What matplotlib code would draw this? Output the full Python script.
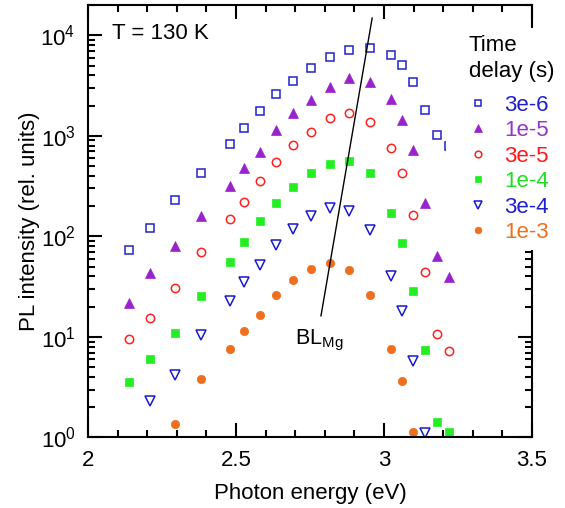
import numpy as np
import matplotlib
matplotlib.use("Agg")
import matplotlib.pyplot as plt
from matplotlib.patches import Rectangle
from matplotlib.ticker import MultipleLocator, NullFormatter, LogLocator

plt.rcParams['font.family'] = ['Liberation Sans', 'DejaVu Sans']
plt.rcParams['mathtext.fontset'] = 'custom'
plt.rcParams['mathtext.rm'] = 'Liberation Sans'
plt.rcParams['mathtext.it'] = 'Liberation Sans:italic'
plt.rcParams['mathtext.default'] = 'regular'

# photon energy columns (eV)
energy = [2.137, 2.210, 2.295, 2.382, 2.479, 2.528, 2.582, 2.636, 2.694, 2.753,
          2.818, 2.883, 2.954, 3.025, 3.060, 3.099, 3.137, 3.179, 3.220]

# PL intensity for each time delay
pl_3e6 = [73, 121, 229, 431, 832, 1202, 1762, 2606, 3548, 4720,
          6070, 7125, 7460, 6355, 5085, 3445, 1815, 1023, 800]
pl_1e5 = [21.6, 43.3, 80.4, 160, 320, 477, 698, 1155, 1683, 2280,
          3053, 3715, 3390, 2318, 1443, 721, 217, 64.4, 39.8]
pl_3e5 = [9.55, 15.5, 30.9, 70.6, 148, 219, 352, 551, 808, 1096,
          1500, 1683, 1378, 765, 425, 163, 44, 10.7, 7.3]
pl_1e4 = [3.54, 6.08, 10.96, 25.8, 56.1, 88.8, 141.6, 214, 313, 425,
          530, 568, 422, 172.6, 86.8, 28.7, 7.37, 1.42, 1.13]
energy_3e4 = energy[1:17]
pl_3e4 = [2.32, 4.16, 10.4, 22.7, 35, 52, 82.3, 118.8, 161, 193.4,
          180.6, 115.3, 40.5, 18.1, 5.77, 1.10]
energy_1e3 = energy[2:16]
pl_1e3 = [1.36, 3.79, 7.55, 11.4, 16.5, 26, 36.7, 47.8, 54.1, 46.1,
          26.2, 7.55, 3.63, 1.13]

# BL_Mg peak guide line
bl_x = [2.787, 2.960]
bl_y = [16.2, 14830]

labels = ['3e-6', '1e-5', '3e-5', '1e-4', '3e-4', '1e-3']
colors = ['#2222CC', '#9922CC', '#FF2020', '#22EE22', '#1818D0', '#EE6F1F']
text_colors = ['#1F1FCF', '#9933CC', '#FF1A1A', '#22DD22', '#1F1FCF', '#EE6F1F']

fig = plt.figure(figsize=(5.65, 5.08), dpi=100)
ax = fig.add_axes([0.1558, 0.1388, 0.7858, 0.8514])

ms = 6
h1, = ax.plot(energy, pl_3e6, 's', ms=ms, mfc='none', mec=colors[0], mew=1.1, label=labels[0])
h2, = ax.plot(energy, pl_1e5, '^', ms=ms + 1, mfc=colors[1], mec=colors[1], mew=0.5, label=labels[1])
h3, = ax.plot(energy, pl_3e5, 'o', ms=ms, mfc='none', mec=colors[2], mew=1.1, label=labels[2])
h4, = ax.plot(energy, pl_1e4, 's', ms=ms, mfc=colors[3], mec=colors[3], mew=0.5, label=labels[3])
h5, = ax.plot(energy_3e4, pl_3e4, 'v', ms=ms + 1, mfc='none', mec=colors[4], mew=1.1, label=labels[4])
h6, = ax.plot(energy_1e3, pl_1e3, 'o', ms=ms, mfc=colors[5], mec=colors[5], mew=0.5, label=labels[5])

ax.plot(bl_x, bl_y, '-', color='black', lw=1)
ax.text(2.699, 9.3, r'BL$_{\mathrm{Mg}}$', fontsize=15.5, va='center', ha='left')
ax.text(0.053, 0.935, 'T = 130 K', transform=ax.transAxes, fontsize=16, va='center', ha='left')

ax.set_yscale('log')
ax.set_xlim(2, 3.5)
ax.set_ylim(1, 2.0e4)
ax.xaxis.set_major_locator(MultipleLocator(0.5))
ax.xaxis.set_minor_locator(MultipleLocator(0.1))
ax.xaxis.set_major_formatter(plt.FuncFormatter(lambda v, p: '%g' % v))
ax.yaxis.set_minor_locator(LogLocator(base=10, subs=np.arange(2, 10)))
ax.yaxis.set_minor_formatter(NullFormatter())

ax.tick_params(which='both', direction='in', top=True, right=True, width=1.5, labelsize=16)
ax.tick_params(which='major', length=10, pad=9)
ax.tick_params(which='minor', length=5)
for sp in ax.spines.values():
    sp.set_linewidth(1.5)

ax.set_xlabel('Photon energy (eV)', fontsize=16, labelpad=8.5)
ax.set_ylabel('PL intensity (rel. units)', fontsize=16, labelpad=0.5)

# white block behind the legend (it hides part of the right axis and a marker)
ax.add_patch(Rectangle((446 / 565, 1 - 248 / 508), 1 - 446 / 565, 216 / 508,
                       transform=fig.transFigure, facecolor='white', edgecolor='none',
                       clip_on=False, zorder=4))

leg = ax.legend(handles=[h1, h2, h3, h4, h5, h6], title='Time\ndelay (s)',
                loc='upper left', bbox_to_anchor=(462 / 565, 1 - 28 / 508),
                bbox_transform=fig.transFigure, fontsize=16, title_fontsize=16,
                frameon=True, facecolor='white', edgecolor='none', framealpha=1,
                handlelength=0.8, handletextpad=0.8, labelspacing=0.2,
                borderpad=0.3, borderaxespad=0, markerscale=0.8, alignment='left')
leg.get_title().set_linespacing(1.35)
leg._legend_box.sep = 9
for t, c in zip(leg.get_texts(), text_colors):
    t.set_color(c)

fig.savefig('out.png', dpi=100)
